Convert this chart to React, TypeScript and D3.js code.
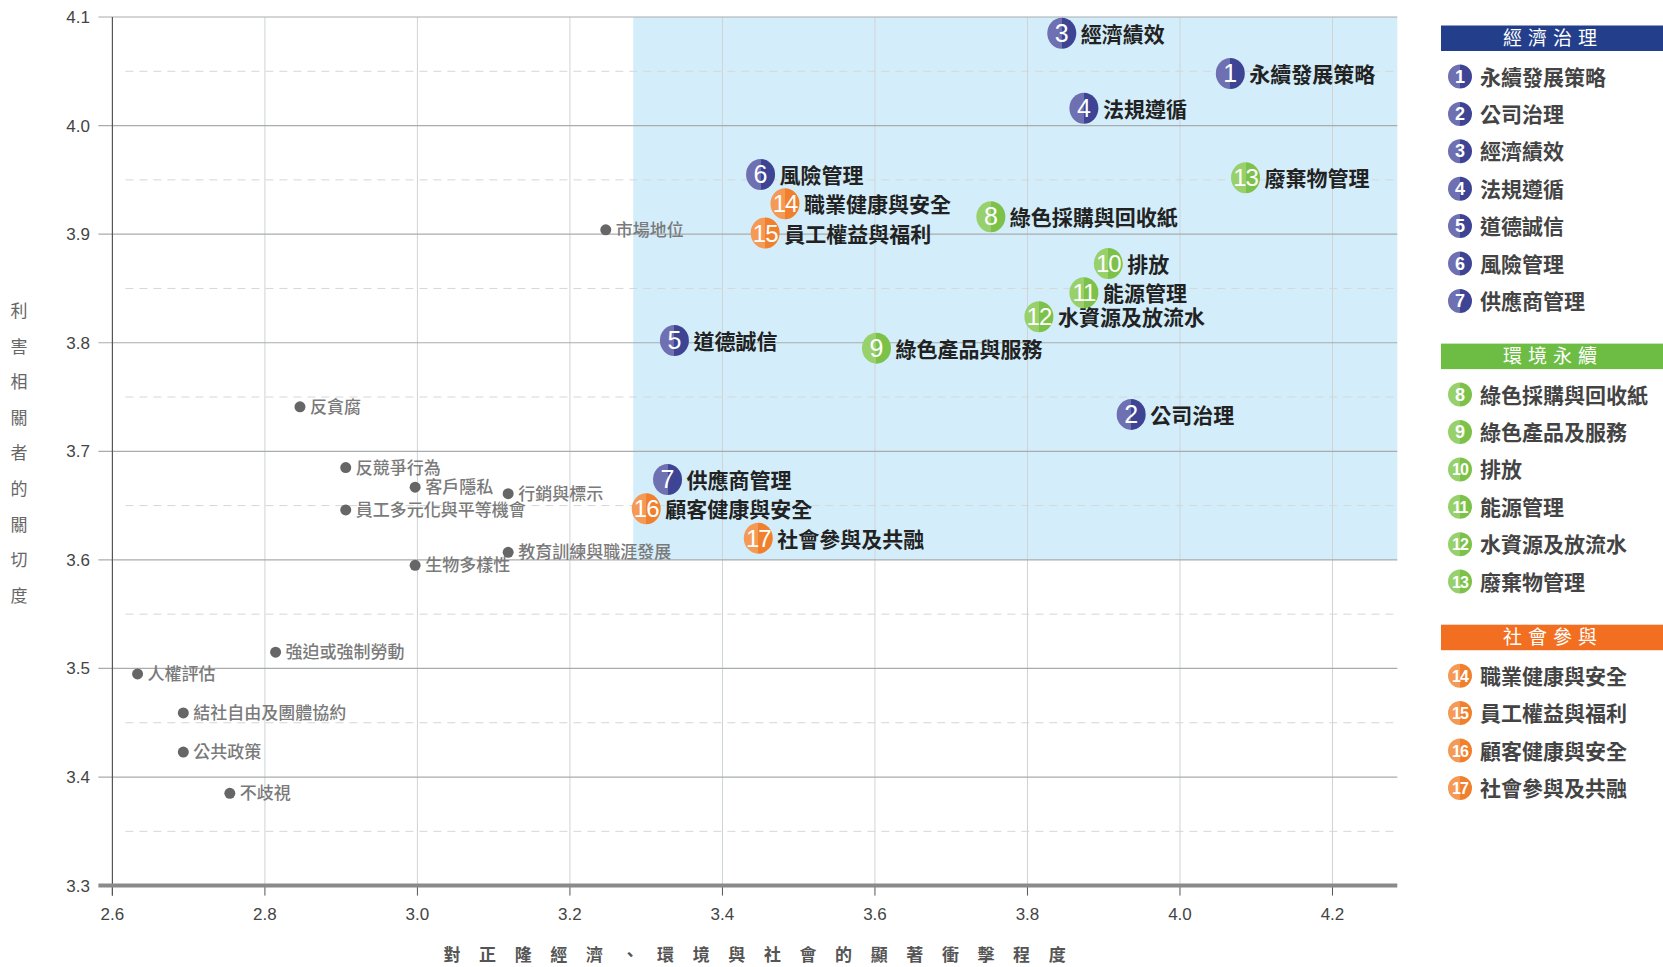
import * as d3 from "d3";

// material topics (numbered)
const topicNames = [
  "永續發展策略", "公司治理", "經濟績效", "法規遵循", "道德誠信", "風險管理", "供應商管理",
  "綠色採購與回收紙", "綠色產品與服務", "排放", "能源管理", "水資源及放流水", "廢棄物管理",
  "職業健康與安全", "員工權益與福利", "顧客健康與安全", "社會參與及共融",
];
const topicGroup = [0, 0, 0, 0, 0, 0, 0, 1, 1, 1, 1, 1, 1, 2, 2, 2, 2];
const topicImpact = [4.066, 3.936, 3.845, 3.874, 3.337, 3.45, 3.328, 3.752, 3.602, 3.906, 3.874, 3.815, 4.086, 3.482, 3.456, 3.3, 3.447];
const topicConcern = [4.048, 3.734, 4.085, 4.016, 3.802, 3.955, 3.674, 3.916, 3.795, 3.873, 3.846, 3.824, 3.952, 3.928, 3.901, 3.647, 3.62];

// other topics (grey)
const otherNames = [
  "市場地位", "反貪腐", "反競爭行為", "客戶隱私", "行銷與標示", "員工多元化與平等機會",
  "教育訓練與職涯發展", "生物多樣性", "強迫或強制勞動", "人權評估", "結社自由及團體協約", "公共政策", "不歧視",
];
const otherImpact = [3.247, 2.846, 2.906, 2.997, 3.119, 2.906, 3.119, 2.997, 2.814, 2.633, 2.693, 2.693, 2.754];
const otherConcern = [3.904, 3.741, 3.685, 3.667, 3.661, 3.646, 3.607, 3.595, 3.515, 3.495, 3.459, 3.423, 3.385];

const groupTitles = ["經濟治理", "環境永續", "社會參與"];
const legendNames = [
  "永續發展策略", "公司治理", "經濟績效", "法規遵循", "道德誠信", "風險管理", "供應商管理",
  "綠色採購與回收紙", "綠色產品及服務", "排放", "能源管理", "水資源及放流水", "廢棄物管理",
  "職業健康與安全", "員工權益與福利", "顧客健康與安全", "社會參與及共融",
];

const xTicks = [2.6, 2.8, 3.0, 3.2, 3.4, 3.6, 3.8, 4.0, 4.2];
const yTicks = [3.3, 3.4, 3.5, 3.6, 3.7, 3.8, 3.9, 4.0, 4.1];
const yHalfTicks = [3.35, 3.45, 3.55, 3.65, 3.75, 3.85, 3.95, 4.05];
const highlight = { x0: 3.283, y0: 3.6, y1: 4.1 };

const yTitle = "利害相關者的關切度";
const xTitle = "對正隆經濟、環境與社會的顯著衝擊程度";

const groupColors = [
  { light: "#6e70b1", dark: "#3e4494", header: "#233e8b" },
  { light: "#98d06c", dark: "#7cc24a", header: "#6dbd45" },
  { light: "#f59a55", dark: "#f07f2e", header: "#f26f21" },
];

const W = 1663;
const H = 967;
const CJK = "'Noto Sans CJK TC', 'Noto Sans CJK SC', sans-serif";
const NUM = "'Liberation Sans Narrow', 'Liberation Sans', Arial, sans-serif";

export default function App() {
  const x = d3.scaleLinear().domain([2.6, 4.285]).range([112.4, 1397.3]);
  const y = d3.scaleLinear().domain([3.3, 4.1]).range([885.6, 17]);
  const [xl, xr] = x.range();
  const yBase = y(3.3);

  const legendTops = [25.5, 343.6, 624.7];

  return (
    <div>
      <style>{"body{margin:0;background:#fff}"}</style>
      <svg width={W} height={H} style={{ display: "block" }}>
        <defs>
          {groupColors.map((c, i) => (
            <linearGradient key={i} id={`g${i}`} x1="0" x2="1" y1="0" y2="0">
              <stop offset="0.5" stopColor={c.light} />
              <stop offset="0.5" stopColor={c.dark} />
            </linearGradient>
          ))}
        </defs>

        {/* highlight area */}
        <rect
          x={x(highlight.x0)}
          y={y(highlight.y1)}
          width={xr - x(highlight.x0)}
          height={y(highlight.y0) - y(highlight.y1)}
          fill="#d3eefa"
        />

        {/* vertical grid */}
        {xTicks.map((t) => (
          <g key={t}>
            {t > 2.6 && (
              <line x1={x(t)} x2={x(t)} y1={y(4.1)} y2={yBase} stroke="#cfd3d6" strokeWidth={1} />
            )}
            <line x1={x(t)} x2={x(t)} y1={yBase} y2={yBase + 10} stroke="#555" strokeWidth={1} />
            <text
              x={x(t)}
              y={920}
              textAnchor="middle"
              fontFamily={NUM}
              fontSize={17}
              fill="#444"
            >
              {t.toFixed(1)}
            </text>
          </g>
        ))}

        {/* dashed half grid */}
        {yHalfTicks.map((t) => (
          <line
            key={t}
            x1={xl + 13}
            x2={xr}
            y1={y(t)}
            y2={y(t)}
            stroke="#d6d6d6"
            strokeWidth={1}
            strokeDasharray="8 6"
          />
        ))}

        {/* horizontal grid */}
        {yTicks.map((t) => (
          <g key={t}>
            {t > 3.3 && (
              <line x1={xl - 14} x2={xr} y1={y(t)} y2={y(t)} stroke="#a9abad" strokeWidth={1.2} />
            )}
            <text
              x={90}
              y={y(t) + 6}
              textAnchor="end"
              fontFamily={NUM}
              fontSize={17}
              fill="#444"
            >
              {t.toFixed(1)}
            </text>
          </g>
        ))}

        {/* axes */}
        <line x1={xl} x2={xl} y1={y(4.1)} y2={yBase + 10} stroke="#555" strokeWidth={1.2} />
        <line x1={xl - 14} x2={xr} y1={yBase} y2={yBase} stroke="#8a8a8a" strokeWidth={4} />

        {/* grey topics */}
        {otherNames.map((name, i) => (
          <g key={name} transform={`translate(${x(otherImpact[i])},${y(otherConcern[i])})`}>
            <circle r={5.5} fill="#666" />
            <text x={10} y={6} fontFamily={CJK} fontSize={17} fontWeight={500} fill="#7a7a7a">
              {name}
            </text>
          </g>
        ))}

        {/* numbered topics */}
        {topicNames.map((name, i) => (
          <g key={name} transform={`translate(${x(topicImpact[i])},${y(topicConcern[i])})`}>
            <ellipse rx={14.5} ry={15.5} fill={`url(#g${topicGroup[i]})`} />
            <text
              y={8.5}
              textAnchor="middle"
              fontFamily={NUM}
              fontSize={i >= 9 ? 24 : 25}
              letterSpacing={i >= 9 ? -1 : 0}
              fill="#fff"
            >
              {i + 1}
            </text>
            <text x={19} y={8.5} fontFamily={CJK} fontSize={21} fontWeight={700} fill="#222">
              {name}
            </text>
          </g>
        ))}

        {/* y title */}
        {yTitle.split("").map((ch, i) => (
          <text
            key={i}
            x={19}
            y={311 + i * 35.6 + 6}
            textAnchor="middle"
            fontFamily={CJK}
            fontSize={17}
            fill="#666"
          >
            {ch}
          </text>
        ))}

        {/* x title */}
        {xTitle.split("").map((ch, i) => (
          <text
            key={i}
            x={452 + i * 35.6}
            y={961}
            textAnchor="middle"
            fontFamily={CJK}
            fontSize={17}
            fontWeight={700}
            fill="#555"
          >
            {ch}
          </text>
        ))}

        {/* legend */}
        {groupTitles.map((title, g) => {
          const top = legendTops[g];
          const items = topicNames.map((_, i) => i).filter((i) => topicGroup[i] === g);
          return (
            <g key={title}>
              <rect x={1441} y={top} width={W - 1441} height={25.5} fill={groupColors[g].header} />
              <text
                x={1553}
                y={top + 19.5}
                textAnchor="middle"
                fontFamily={CJK}
                fontSize={19}
                letterSpacing={6}
                fill="#fff"
              >
                {title}
              </text>
              {items.map((idx, k) => {
                const cy = top + 51 + k * 37.4;
                return (
                  <g key={idx} transform={`translate(1460,${cy})`}>
                    <circle r={12} fill={`url(#g${g})`} />
                    <text
                      y={6}
                      textAnchor="middle"
                      fontFamily={NUM}
                      fontSize={idx >= 9 ? 16 : 18}
                      fontWeight={700}
                      letterSpacing={idx >= 9 ? -1 : 0}
                      fill="#fff"
                    >
                      {idx + 1}
                    </text>
                    <text x={20} y={8} fontFamily={CJK} fontSize={21} fontWeight={700} fill="#444">
                      {legendNames[idx]}
                    </text>
                  </g>
                );
              })}
            </g>
          );
        })}
      </svg>
    </div>
  );
}
